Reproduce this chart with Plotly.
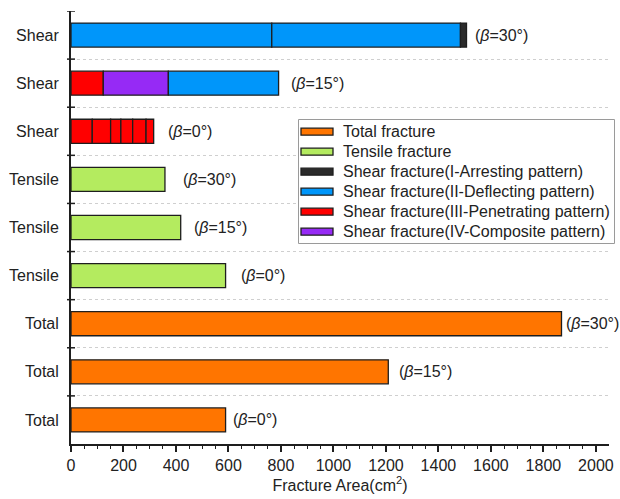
import plotly.graph_objects as go

# ---------------- data ----------------
row_labels = ["Total", "Total", "Total", "Tensile", "Tensile", "Tensile", "Shear", "Shear", "Shear"]
row_angles = ["0", "15", "30", "0", "15", "30", "0", "15", "30"]

total_area = [589, 1209, 1869]          # beta = 0, 15, 30
tensile_area = [589, 418, 358]          # beta = 0, 15, 30
shear_b0_III = [81, 70, 39, 45, 51, 29]  # penetrating segments, beta = 0
shear_b15_III = [123]
shear_b15_IV = [248]
shear_b15_II = [420]
shear_b30_II = [765, 719]
shear_b30_I = [23]

S_TOTAL = "Total fracture"
S_TENS = "Tensile fracture"
S_I = "Shear fracture(I-Arresting pattern)"
S_II = "Shear fracture(II-Deflecting pattern)"
S_III = "Shear fracture(III-Penetrating pattern)"
S_IV = "Shear fracture(IV-Composite pattern)"
series_order = [S_TOTAL, S_TENS, S_I, S_II, S_III, S_IV]

# ---------------- style ----------------
colors = {
    S_TOTAL: "#FF7500",
    S_TENS: "#B4EB5F",
    S_I: "#2B2B2B",
    S_II: "#0096FA",
    S_III: "#FF0000",
    S_IV: "#962AF5",
}
label_gap = [5, 9, 2, 13, 11, 16, 12, 10, 6]
FONT = "Liberation Sans, Arial, sans-serif"
EDGE = "#1E1E1E"
TXT = "#222"

# plot area in pixels
L, R, T, B = 71, 609, 11, 444
W, H = 620, 499


def px_x(p):
    return (p - L) / (R - L)


def px_y(p):
    return (B - p) / (B - T)


# segments per row (bottom to top)
rows = [
    [(S_TOTAL, total_area[0])],
    [(S_TOTAL, total_area[1])],
    [(S_TOTAL, total_area[2])],
    [(S_TENS, tensile_area[0])],
    [(S_TENS, tensile_area[1])],
    [(S_TENS, tensile_area[2])],
    [(S_III, v) for v in shear_b0_III],
    [(S_III, v) for v in shear_b15_III] + [(S_IV, v) for v in shear_b15_IV] + [(S_II, v) for v in shear_b15_II],
    [(S_II, v) for v in shear_b30_II] + [(S_I, v) for v in shear_b30_I],
]

fig = go.Figure()
for i, segs in enumerate(rows):
    base = 0
    for name, val in segs:
        fig.add_trace(go.Bar(
            y=[i], x=[val], base=[base], orientation="h", width=0.5,
            name=name, showlegend=False,
            marker=dict(color=colors[name], line=dict(color=EDGE, width=1.3)),
            hoverinfo="x",
        ))
        base += val
    fig.add_annotation(
        x=base, y=i, xref="x", yref="y",
        text=f"(<i>β</i>={row_angles[i]}°)",
        showarrow=False, xanchor="left", xshift=label_gap[i],
        font=dict(size=16, color=TXT, family=FONT),
    )

boundaries = [k + 0.5 for k in range(len(rows))]
shapes = []
for b in boundaries:
    shapes.append(dict(type="line", xref="paper", yref="y", x0=px_x(L - 4), x1=px_x(L + 4), y0=b, y1=b,
                       line=dict(color=EDGE, width=1.5)))

# custom legend (box, swatches, labels)
shapes.append(dict(type="rect", xref="paper", yref="paper",
                   x0=px_x(298.5), x1=px_x(614.5), y0=px_y(119.5), y1=px_y(243.5),
                   fillcolor="white", line=dict(color="#9a9a9a", width=1)))
for k, name in enumerate(series_order):
    cy = 131.7 + 20 * k
    shapes.append(dict(type="rect", xref="paper", yref="paper",
                       x0=px_x(301), x1=px_x(333), y0=px_y(cy + 3.5), y1=px_y(cy - 3.5),
                       fillcolor=colors[name], line=dict(color=EDGE, width=1.3)))
    fig.add_annotation(x=px_x(341), y=px_y(cy), xref="paper", yref="paper", text=name,
                       showarrow=False, xanchor="left", yanchor="middle",
                       font=dict(size=16, color=TXT, family=FONT))

fig.update_layout(
    width=W, height=H,
    margin=dict(l=L, r=W - R, t=T, b=H - B, autoexpand=False),
    barmode="overlay",
    plot_bgcolor="white", paper_bgcolor="white",
    font=dict(family=FONT, size=16, color=TXT),
    showlegend=False,
    shapes=shapes,
    xaxis=dict(
        range=[0, 2050], tickmode="array", tickvals=list(range(0, 2001, 200)),
        showgrid=False, zeroline=False, automargin=False,
        showline=True, linecolor=EDGE, linewidth=2,
        ticks="outside", ticklen=6, tickwidth=1.5, tickcolor=EDGE,
        minor=dict(tickmode="array", tickvals=list(range(50, 2001, 50)), ticks="outside", ticklen=3,
                   tickwidth=1.2, tickcolor=EDGE, showgrid=False),
        title=dict(text="Fracture Area(cm<sup>2</sup>)", font=dict(size=16, color=TXT, family=FONT), standoff=6),
        tickfont=dict(size=16, color=TXT, family=FONT),
    ),
    yaxis=dict(
        range=[-0.5, 8.5], tickmode="array", tickvals=list(range(len(rows))), ticktext=row_labels,
        showgrid=False, zeroline=False, automargin=False,
        showline=True, linecolor=EDGE, linewidth=2,
        ticks="", ticklabelstandoff=7,
        minor=dict(tickmode="array", tickvals=boundaries[:-1], ticks="", showgrid=True,
                   gridcolor="#cfcfcf", griddash="dot", gridwidth=1),
        tickfont=dict(size=16, color=TXT, family=FONT),
    ),
)

fig.write_html("out.html", config={"displayModeBar": False},
               post_script="document.body.style.margin='0';")
